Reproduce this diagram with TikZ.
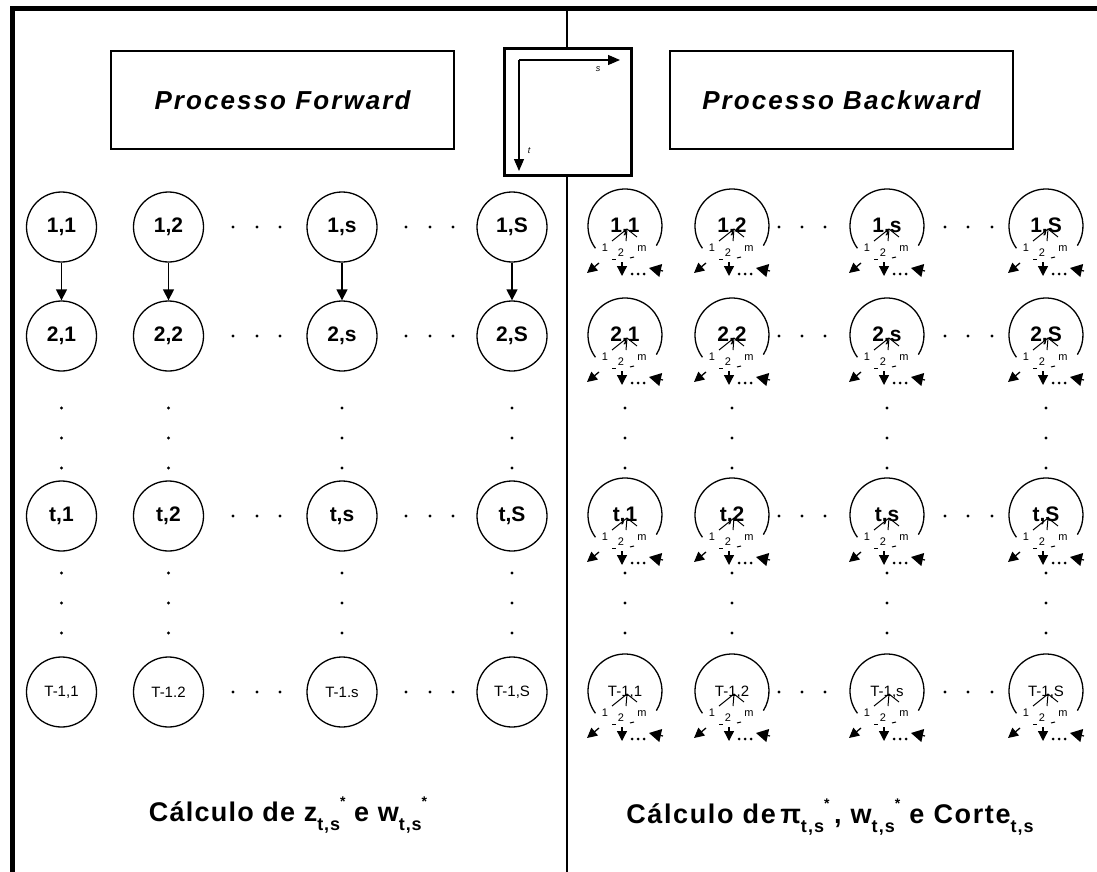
\documentclass[tikz,border=0pt]{standalone}
\usepackage{fontspec}
\setmainfont{Liberation Sans}
\usetikzlibrary{arrows.meta}
% subscript / superscript pieces for the formula captions
\newcommand\lowpart[1]{\raisebox{-0.32em}{\fontsize{18}{19}\selectfont #1}}
\newcommand\highpart[1]{\raisebox{0.55em}{\fontsize{14}{15}\selectfont #1}}
\tikzset{
  frameline/.style={line width=5pt},
  divider/.style={line width=2pt},
  titlebox/.style={draw, line width=2.2pt, minimum width=343pt, minimum height=98pt,
    inner sep=0pt, font=\fontsize{26}{30}\selectfont\bfseries\itshape\addfontfeature{LetterSpace=8}},
  axisbox/.style={draw, fill=white, line width=2.6pt, minimum width=127pt,
    minimum height=127pt, inner sep=0pt},
  axisarrow/.style={line width=1.2pt, -{Triangle[length=12pt,width=10pt]}},
  axislabel/.style={font=\fontsize{9}{10}\selectfont\itshape, inner sep=0pt},
  fnode/.style={draw, circle, line width=1.3pt, minimum size=70pt, inner sep=0pt,
    font=\fontsize{21}{24}\selectfont\bfseries},
  biglabel/.style={font=\fontsize{21}{24}\selectfont\bfseries, inner sep=0pt},
  smalllabel/.style={font=\fontsize{15}{17}\selectfont, inner sep=0pt},
  ring/.style={line width=1.3pt},
  fine/.style={line width=1pt},
  mini/.style={font=\fontsize{11}{12}\selectfont, inner sep=0pt},
  down/.style={line width=1.3pt, -{Triangle[length=11pt,width=11pt]}},
  btip/.style={line width=1.3pt, -{Triangle[length=10pt,width=10pt]}},
  bigtip/.style={line width=1.2pt, -{Triangle[length=12pt,width=13pt]}},
  dotmark/.style={fill=black},
  caption/.style={font=\fontsize{27}{30}\selectfont\bfseries\addfontfeature{LetterSpace=4.5}, inner sep=0pt},
  widecaption/.style={font=\fontsize{27}{30}\selectfont\bfseries\addfontfeature{LetterSpace=6}, inner sep=0pt},
  % node of the backward pass: open ring with the branches 1, 2, ..., m
  pics/bnode/.style n args={2}{code={
    \draw[ring] (0,-1) ++(217:37pt) arc[start angle=217, end angle=-32, radius=37pt];
    \node[#2] (-lbl) at (0,0) {#1};
    \draw[fine] (2,2) -- (-13,14);
    \draw[fine] (2,2) -- (1,14);
    \draw[fine] (2,2) -- (12,10);
    \node[mini] (-n1) at (-20,21) {1};
    \node[mini] (-n2) at (-4,26) {2};
    \node[mini] (-nm) at (17,22) {m};
    \draw[fine] (-13,32) -- (-9,32);
    \draw[fine] (5,31) -- (9,30);
    \draw[btip] (-26,36) -- (-38,46);
    \draw[btip] (-3,35) -- (-3,49);
    \draw[bigtip] (38,44) -- (24,41);
    \foreach \d in {7,13,19} \fill (\d,47) circle[radius=1.5pt];
  }}
}
\begin{document}
\begin{tikzpicture}[x=1pt,y=-1pt]
\useasboundingbox (0,0) rectangle (1097,872);

% outer frame and the divider between the two passes
\draw[frameline] (12,872) -- (12,9) -- (1097,9);
\draw[divider] (567,9) -- (567,872);

% titles
\node[titlebox] (fwd) at (282.5,100) {Processo Forward};
\node[titlebox] (bwd) at (841.5,100) {Processo Backward};

% orientation of the grid: s to the right, t downwards
\node[axisbox] (axes) at (568,112) {};
\coordinate (org) at (519,60);
\coordinate (send) at (620,60);
\coordinate (tend) at (519,171);
\draw[axisarrow] (org) -- (send);
\draw[axisarrow] (org) -- (tend);
\node[axislabel] (slab) at (598,69) {s};
\node[axislabel] (tlab) at (529,151) {t};

% forward pass
\foreach \c/\x/\lastlab in {1/61.5/{T-1,1}, 2/168.5/{T-1.2}, s/342/{T-1.s}, S/512/{T-1,S}} {
  \node[fnode] (fa\c) at (\x,227) {1,\c};
  \node[fnode] (fb\c) at (\x,336) {2,\c};
  \node[fnode] (ft\c) at (\x,516) {t,\c};
  \node[fnode, font=\fontsize{15}{17}\selectfont] (fT\c) at (\x,692) {\lastlab};
  \draw[down] (fa\c) -- (fb\c);
}

% backward pass
\foreach \c/\x/\lastlab in {1/625/{T-1,1}, 2/732/{T-1,2}, s/887/{T-1,s}, S/1046/{T-1,S}} {
  \pic (ba\c) at (\x,227) {bnode={1,\c}{biglabel}};
  \pic (bb\c) at (\x,336) {bnode={2,\c}{biglabel}};
  \pic (bt\c) at (\x,516) {bnode={t,\c}{biglabel}};
  \pic (bT\c) at (\x,692) {bnode={\lastlab}{smalllabel}};
}

% elided rows
\foreach \x in {61.5,168.5,342,512,625,732,887,1046}
  \foreach \y in {408,438,468,573,603,633}
    \fill[dotmark] (\x,\y) circle[radius=1.6pt];

% elided columns
\foreach \y in {227,336,516,692}
  \foreach \x in {233,257,280,406,430,453,779,802,825,945,968,992}
    \fill[dotmark] (\x,\y) circle[radius=1.6pt];

% captions
\node[caption] (capf) at (288,815)
  {Cálculo de z\lowpart{t,s}\highpart{*} e w\lowpart{t,s}\highpart{*}};
\node[widecaption] (capb) at (830,817)
  {Cálculo de\,π\lowpart{t,s}\highpart{*}\,, w\lowpart{t,s}\highpart{*} e Corte\lowpart{t,s}};
\end{tikzpicture}
\end{document}
